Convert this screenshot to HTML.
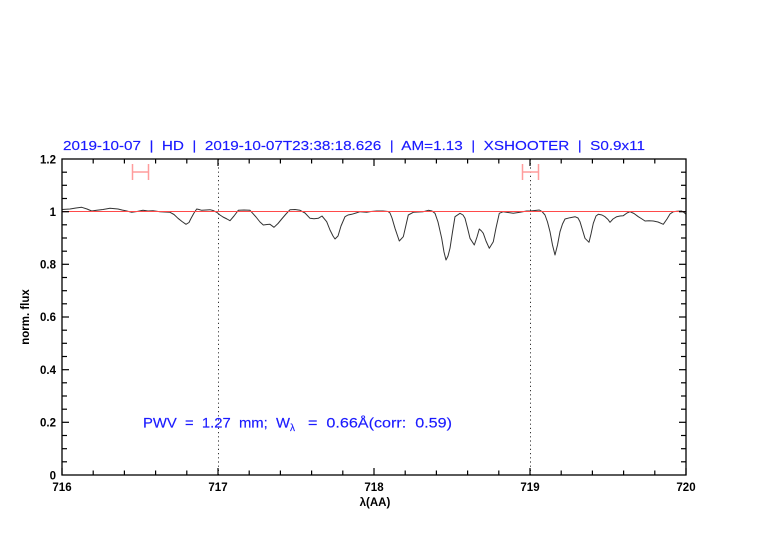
<!DOCTYPE html>
<html><head><meta charset="utf-8"><style>
html,body{margin:0;padding:0;background:#fff;}
svg{display:block;}
text{white-space:pre;}
</style></head><body>
<svg width="782" height="542" viewBox="0 0 782 542" xmlns="http://www.w3.org/2000/svg" font-family="Liberation Sans, Arial, sans-serif" xml:space="preserve">
<rect width="782" height="542" fill="#fff"/>
<!-- title -->
<text x="63" y="150" font-size="13" fill="#1a1aff" textLength="582" lengthAdjust="spacingAndGlyphs" stroke="#1a1aff" stroke-width="0.15">2019-10-07  |  HD  |  2019-10-07T23:38:18.626  |  AM=1.13  |  XSHOOTER  |  S0.9x11</text>

<!-- dotted verticals -->
<line x1="218.5" y1="159" x2="218.5" y2="475" stroke="#333" stroke-width="1" stroke-dasharray="1.2,3"/>
<line x1="530.5" y1="159" x2="530.5" y2="475" stroke="#333" stroke-width="1" stroke-dasharray="1.2,3"/>

<!-- error bar markers -->
<g stroke="#ff9c9c" stroke-width="1.5" fill="none">
<line x1="132.5" y1="164" x2="132.5" y2="180"/>
<line x1="148.5" y1="164" x2="148.5" y2="180"/>
<line x1="132.5" y1="172" x2="148.5" y2="172"/>
<line x1="522.5" y1="164" x2="522.5" y2="180"/>
<line x1="538.5" y1="164" x2="538.5" y2="180"/>
<line x1="522.5" y1="172" x2="538.5" y2="172"/>
</g>

<!-- spectrum -->
<polyline fill="none" stroke="#333" stroke-width="1" stroke-linejoin="round" points="
62,209.5 70,209 76,208 81.7,207.3 87,209 91.7,211 96.7,210.3 103,209.5 110,208.3 118,209 122,210 126.7,211 131.7,212.3 137,211.5 143,210.3 148,211 153,210.7 160,211.7 165,212 170,212.3 174,214.5 178,218.3 182,221.5 186,224.3 189,222.5 190.7,219 194,213 196.7,209 199,209.5 201.7,210.3 206,210 210,209.7 213,210.5 216.7,212.3 220,215 223,217 227,219 230,220.7 234,216 238.3,210.3 244,210 250,210.3 256,217 260,222 263.3,225 267,224.5 270,224.3 274,227.3 278,223.5 281.7,219 286,214 290,209.7 295,209.5 300,210.3 305,213 310,218.3 314,218.8 318.3,218.3 322,216 326.7,221.7 330,230 333,236 335,239 338,236 341,226 345,216.7 348,215 351.7,214.3 356,213 360,211.7 366.7,212.3 371,211.5 376.7,211 383,211 388,211.5 390,213 392,218 395,228.3 399.3,241 403.3,236.7 406,225 408.3,215 413.3,212.3 418,212 423.3,211.7 428.3,210.3 432,211 435,213.3 438,222 441.7,238.3 444,252 446,260 448,256 450,248.3 452.5,232 455,216.7 460,213.3 463,215 465,218.3 467.5,228 470,238.3 474.3,245 477,237 479.3,229 481.5,231 483.3,233.3 486,241 489.3,248.3 493.3,241.7 496,228 499.3,213.3 503.3,211.7 508,212.5 513.3,213.3 520,212.3 526.7,211 530,211 535,210.5 539.3,210 542,211.5 545,215 547.5,222 550,231.7 552.5,245 555,255 557.5,245 560,231.7 562.5,224 565,219 570,217.7 575,216.7 578,218 580,221.7 582.5,230 585,238.3 589,242.3 591,234 593.3,223.3 596,216 598.3,214.3 602,215 605,216.7 608,219.5 610,222.3 613,219 616.7,216.7 620,216 623.3,215.7 627,213 630,211.7 634,213.5 638.3,216.7 642,219 645,221 649,220.8 653.3,221 658,222 663.3,224.3 667,219 670,214 673.3,211.7 677,211.3 681.7,211 684,212.5 686,214.3"/>

<!-- red reference line -->
<line x1="62" y1="211.5" x2="686" y2="211.5" stroke="#ff4a4a" stroke-width="1"/>

<!-- axes box -->
<rect x="62" y="159" width="624" height="316" fill="none" stroke="#000" stroke-width="1.3"/>

<!-- x ticks -->
<g stroke="#000" stroke-width="1.2">
<line x1="62" y1="475" x2="62" y2="468"/><line x1="218" y1="475" x2="218" y2="468"/><line x1="374" y1="475" x2="374" y2="468"/><line x1="530" y1="475" x2="530" y2="468"/><line x1="686" y1="475" x2="686" y2="468"/>
<line x1="218" y1="159" x2="218" y2="166"/><line x1="374" y1="159" x2="374" y2="166"/><line x1="530" y1="159" x2="530" y2="166"/>
<line x1="93.2" y1="475" x2="93.2" y2="470.5"/><line x1="124.4" y1="475" x2="124.4" y2="470.5"/><line x1="155.6" y1="475" x2="155.6" y2="470.5"/><line x1="186.8" y1="475" x2="186.8" y2="470.5"/>
<line x1="249.2" y1="475" x2="249.2" y2="470.5"/><line x1="280.4" y1="475" x2="280.4" y2="470.5"/><line x1="311.6" y1="475" x2="311.6" y2="470.5"/><line x1="342.8" y1="475" x2="342.8" y2="470.5"/>
<line x1="405.2" y1="475" x2="405.2" y2="470.5"/><line x1="436.4" y1="475" x2="436.4" y2="470.5"/><line x1="467.6" y1="475" x2="467.6" y2="470.5"/><line x1="498.8" y1="475" x2="498.8" y2="470.5"/>
<line x1="561.2" y1="475" x2="561.2" y2="470.5"/><line x1="592.4" y1="475" x2="592.4" y2="470.5"/><line x1="623.6" y1="475" x2="623.6" y2="470.5"/><line x1="654.8" y1="475" x2="654.8" y2="470.5"/>
<line x1="93.2" y1="159" x2="93.2" y2="163.5"/><line x1="124.4" y1="159" x2="124.4" y2="163.5"/><line x1="155.6" y1="159" x2="155.6" y2="163.5"/><line x1="186.8" y1="159" x2="186.8" y2="163.5"/>
<line x1="249.2" y1="159" x2="249.2" y2="163.5"/><line x1="280.4" y1="159" x2="280.4" y2="163.5"/><line x1="311.6" y1="159" x2="311.6" y2="163.5"/><line x1="342.8" y1="159" x2="342.8" y2="163.5"/>
<line x1="405.2" y1="159" x2="405.2" y2="163.5"/><line x1="436.4" y1="159" x2="436.4" y2="163.5"/><line x1="467.6" y1="159" x2="467.6" y2="163.5"/><line x1="498.8" y1="159" x2="498.8" y2="163.5"/>
<line x1="561.2" y1="159" x2="561.2" y2="163.5"/><line x1="592.4" y1="159" x2="592.4" y2="163.5"/><line x1="623.6" y1="159" x2="623.6" y2="163.5"/><line x1="654.8" y1="159" x2="654.8" y2="163.5"/>
</g>

<!-- y ticks -->
<g stroke="#000" stroke-width="1.2">
<line x1="62" y1="422.3" x2="69" y2="422.3"/><line x1="62" y1="369.7" x2="69" y2="369.7"/><line x1="62" y1="317" x2="69" y2="317"/><line x1="62" y1="264.3" x2="69" y2="264.3"/><line x1="62" y1="211.7" x2="69" y2="211.7"/>
<line x1="686" y1="422.3" x2="679" y2="422.3"/><line x1="686" y1="369.7" x2="679" y2="369.7"/><line x1="686" y1="317" x2="679" y2="317"/><line x1="686" y1="264.3" x2="679" y2="264.3"/><line x1="686" y1="211.7" x2="679" y2="211.7"/>
<line x1="62" y1="461.8" x2="67" y2="461.8"/><line x1="62" y1="448.7" x2="67" y2="448.7"/><line x1="62" y1="435.5" x2="67" y2="435.5"/>
<line x1="62" y1="409.2" x2="67" y2="409.2"/><line x1="62" y1="396" x2="67" y2="396"/><line x1="62" y1="382.8" x2="67" y2="382.8"/>
<line x1="62" y1="356.5" x2="67" y2="356.5"/><line x1="62" y1="343.3" x2="67" y2="343.3"/><line x1="62" y1="330.2" x2="67" y2="330.2"/>
<line x1="62" y1="303.8" x2="67" y2="303.8"/><line x1="62" y1="290.7" x2="67" y2="290.7"/><line x1="62" y1="277.5" x2="67" y2="277.5"/>
<line x1="62" y1="251.2" x2="67" y2="251.2"/><line x1="62" y1="238" x2="67" y2="238"/><line x1="62" y1="224.8" x2="67" y2="224.8"/>
<line x1="62" y1="198.5" x2="67" y2="198.5"/><line x1="62" y1="185.3" x2="67" y2="185.3"/><line x1="62" y1="172.2" x2="67" y2="172.2"/>
<line x1="686" y1="461.8" x2="681" y2="461.8"/><line x1="686" y1="448.7" x2="681" y2="448.7"/><line x1="686" y1="435.5" x2="681" y2="435.5"/>
<line x1="686" y1="409.2" x2="681" y2="409.2"/><line x1="686" y1="396" x2="681" y2="396"/><line x1="686" y1="382.8" x2="681" y2="382.8"/>
<line x1="686" y1="356.5" x2="681" y2="356.5"/><line x1="686" y1="343.3" x2="681" y2="343.3"/><line x1="686" y1="330.2" x2="681" y2="330.2"/>
<line x1="686" y1="303.8" x2="681" y2="303.8"/><line x1="686" y1="290.7" x2="681" y2="290.7"/><line x1="686" y1="277.5" x2="681" y2="277.5"/>
<line x1="686" y1="251.2" x2="681" y2="251.2"/><line x1="686" y1="238" x2="681" y2="238"/><line x1="686" y1="224.8" x2="681" y2="224.8"/>
<line x1="686" y1="198.5" x2="681" y2="198.5"/><line x1="686" y1="185.3" x2="681" y2="185.3"/><line x1="686" y1="172.2" x2="681" y2="172.2"/>
</g>

<!-- y labels -->
<g font-size="11.5" fill="#000" text-anchor="end" font-weight="bold">
<text x="56" y="479.5">0</text>
<text x="56" y="426.5">0.2</text>
<text x="56" y="374">0.4</text>
<text x="56" y="321">0.6</text>
<text x="56" y="268.5">0.8</text>
<text x="56" y="216">1</text>
<text x="56" y="163.5">1.2</text>
</g>
<!-- x labels -->
<g font-size="11.5" fill="#000" text-anchor="middle" font-weight="bold">
<text x="62" y="491">716</text>
<text x="218" y="491">717</text>
<text x="374" y="491">718</text>
<text x="530" y="491">719</text>
<text x="686" y="491">720</text>
<text x="375" y="506">λ(AA)</text>
</g>
<text transform="translate(29,317) rotate(-90)" font-size="11.5" font-weight="bold" text-anchor="middle" fill="#000">norm. flux</text>

<!-- annotation -->
<g fill="#1a1aff" stroke="#1a1aff" stroke-width="0.15" font-size="13.5">
<text x="143" y="427.5" textLength="147" lengthAdjust="spacingAndGlyphs">PWV  =  1.27  mm;  W</text>
<text x="290" y="431" font-size="10">λ</text>
<text x="308" y="427.5" textLength="144" lengthAdjust="spacingAndGlyphs">=  0.66Å(corr:  0.59)</text>
</g>
</svg>
</body></html>
